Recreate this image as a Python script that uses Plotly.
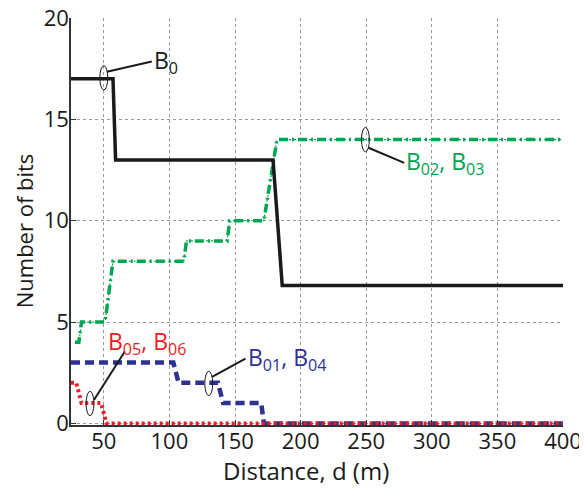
import plotly.graph_objects as go

# Data
black_x = [25, 57, 59, 179, 186, 400]
black_y = [17, 17, 13, 13, 6.8, 6.8]

green_x = [28, 31, 33, 51, 57, 111, 113, 144, 146, 172, 182, 400]
green_y = [4, 4, 5, 5, 8, 8, 9, 9, 10, 10, 14, 14]

blue_x = [25, 103, 107, 137, 141, 170, 172, 400]
blue_y = [3, 3, 2, 2, 1, 1, 0, 0]

red_x = [25, 29, 33, 48, 52, 400]
red_y = [2, 2, 1, 1, 0, 0]

x_ticks = [50, 100, 150, 200, 250, 300, 350, 400]
y_ticks = [0, 5, 10, 15, 20]

x_title = "Distance, d (m)"
y_title = "Number of bits"

BLACK = "#1a1a1a"
GREEN = "#00a651"
BLUE = "#2e3192"
RED = "#ed1c24"
FONT = "Open Sans"

fig = go.Figure()
fig.add_trace(go.Scatter(x=green_x, y=green_y, mode="lines",
                         line=dict(color=GREEN, width=1.2, dash="2px,3px")))
fig.add_trace(go.Scatter(x=green_x, y=green_y, mode="lines",
                         line=dict(color=GREEN, width=3.5, dash="9px,4px,2px,4px")))
fig.add_trace(go.Scatter(x=black_x, y=black_y, mode="lines",
                         line=dict(color=BLACK, width=3.5)))
fig.add_trace(go.Scatter(x=blue_x, y=blue_y, mode="lines",
                         line=dict(color=BLUE, width=4.5, dash="9px,5px")))
fig.add_trace(go.Scatter(x=red_x, y=red_y, mode="lines",
                         line=dict(color=RED, width=4, dash="3px,3px")))

# Annotation geometry: (ellipse center x, y, line start x, y, line end x, y, text, color, text x, text y)
labels = [
    (50, 17.05, 52.4, 17.35, 86.6, 17.85, "B<sub>0</sub>", BLACK, 86.6, 17.85),
    (249.4, 14.0, 251.7, 13.6, 279, 12.85, "B<sub>02</sub>, B<sub>03</sub>", GREEN, 279, 12.85),
    (39.5, 0.98, 42.5, 1.15, 66, 3.55, "B<sub>05</sub>, B<sub>06</sub>", RED, 52, 4.0),
    (130, 1.97, 132.5, 2.3, 158, 3.2, "B<sub>01</sub>, B<sub>04</sub>", BLUE, 158, 3.2),
]
ell_w = 6.0
ell_h = 1.2
shapes = []
annotations = []
for cx, cy, lx0, ly0, lx1, ly1, txt, col, tx, ty in labels:
    shapes.append(dict(type="circle", xref="x", yref="y",
                       x0=cx - ell_w / 2, x1=cx + ell_w / 2,
                       y0=cy - ell_h / 2, y1=cy + ell_h / 2,
                       line=dict(color=BLACK, width=1)))
    shapes.append(dict(type="line", xref="x", yref="y",
                       x0=lx0, y0=ly0, x1=lx1, y1=ly1,
                       line=dict(color=BLACK, width=2)))
    annotations.append(dict(x=tx, y=ty, xref="x", yref="y", text=txt,
                            showarrow=False, xanchor="left", yanchor="middle",
                            font=dict(family=FONT, size=23, color=col)))

# axis titles placed as annotations (paper coordinates)
annotations.append(dict(x=0.478, y=-0.112, xref="paper", yref="paper", text=x_title,
                        showarrow=False, xanchor="center", yanchor="middle",
                        font=dict(family=FONT, size=24, color=BLACK)))
annotations.append(dict(x=-0.0955, y=0.476, xref="paper", yref="paper", text=y_title,
                        showarrow=False, xanchor="center", yanchor="middle",
                        textangle=-90,
                        font=dict(family=FONT, size=22, color=BLACK)))

# The page body has an 8px default margin, so the figure is sized to fit.
fig.update_layout(
    width=579, height=482,
    margin=dict(l=63, r=24, t=10, b=65, autoexpand=False),
    plot_bgcolor="white", paper_bgcolor="white",
    showlegend=False,
    font=dict(family=FONT, size=22, color=BLACK),
    shapes=shapes, annotations=annotations,
)
fig.update_xaxes(range=[25, 400], tickvals=x_ticks, ticks="inside", ticklen=5,
                 tickcolor="#333", showline=True, linecolor="#333", linewidth=1.5,
                 showgrid=True, gridcolor="#999", griddash="dot", gridwidth=1,
                 zeroline=False, automargin=False, ticklabelstandoff=-4,
                 ticklabeloverflow="allow", tickfont=dict(size=22))
fig.update_yaxes(range=[-0.08, 20], tickvals=y_ticks, ticks="inside", ticklen=5,
                 tickcolor="#333", showline=True, linecolor="#333", linewidth=1.5,
                 showgrid=True, gridcolor="#999", griddash="dot", gridwidth=1,
                 zeroline=False, automargin=False, ticklabelstandoff=-4,
                 ticklabeloverflow="allow", tickfont=dict(size=22))

fig.write_html("out.html")
